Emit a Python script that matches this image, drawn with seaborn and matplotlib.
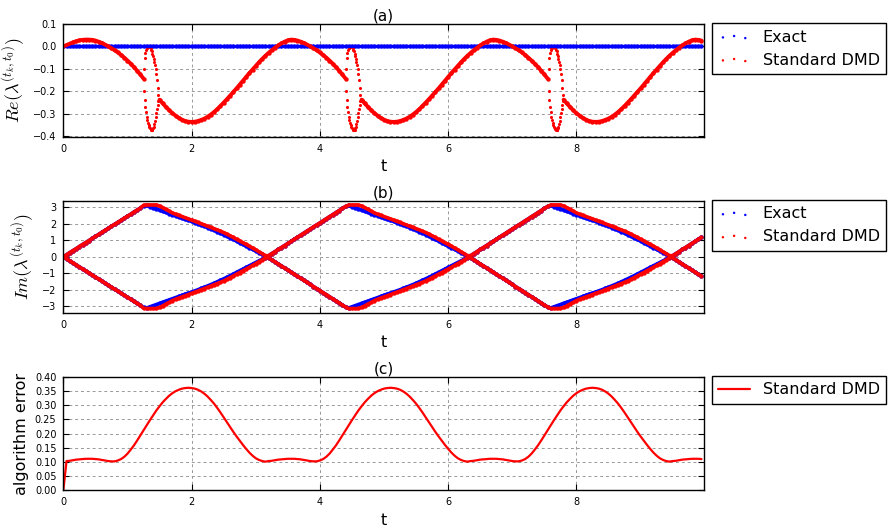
import numpy as np
import matplotlib
matplotlib.use("Agg")
import matplotlib.pyplot as plt
import seaborn as sns

sns.set_style("white", {"axes.edgecolor": "k", "text.color": "k",
                        "axes.labelcolor": "k", "xtick.color": "k", "ytick.color": "k"})
plt.rcParams["font.family"] = "DejaVu Sans"
plt.rcParams["mathtext.fontset"] = "cm"

nan = np.nan

# time axis, one sample every 0.05
t = np.round(np.arange(200) * 0.05, 2)

# (a) real part, exact eigenvalues are purely imaginary
re_exact = [0.0] * 200
re_dmd = [
    0.000, 0.006, 0.012, 0.018, 0.023, 0.027, 0.029, 0.030, 0.030, 0.029,
    0.026, 0.021, 0.015, 0.008, 0.000, -0.008, -0.017, -0.027, -0.038, -0.050,
    -0.063, -0.077, -0.092, -0.108, -0.125, -0.143, nan, nan, nan, nan,
    -0.237, -0.254, -0.269, -0.284, -0.297, -0.308, -0.318, -0.326, -0.332, -0.335,
    -0.336, -0.335, -0.332, -0.327, -0.321, -0.313, -0.303, -0.292, -0.279, -0.265,
    -0.250, -0.235, -0.219, -0.203, -0.187, -0.170, -0.153, -0.136, -0.119, -0.103,
    -0.087, -0.071, -0.056, -0.042, -0.029, -0.017, -0.006, 0.004, 0.013, 0.021,
    0.027, 0.030, 0.029, 0.026, 0.021, 0.015, 0.008, 0.000, -0.008, -0.017,
    -0.027, -0.038, -0.050, -0.063, -0.077, -0.092, -0.108, -0.125, -0.143, nan,
    nan, nan, nan,
    -0.237, -0.254, -0.269, -0.284, -0.297, -0.308, -0.318, -0.326, -0.332, -0.335,
    -0.336, -0.335, -0.332, -0.327, -0.321, -0.313, -0.303, -0.292, -0.279, -0.265,
    -0.250, -0.235, -0.219, -0.203, -0.187, -0.170, -0.153, -0.136, -0.119, -0.103,
    -0.087, -0.071, -0.056, -0.042, -0.029, -0.017, -0.006, 0.004, 0.013, 0.021,
    0.027, 0.030, 0.029, 0.026, 0.021, 0.015, 0.008, 0.000, -0.008, -0.017,
    -0.027, -0.038, -0.050, -0.063, -0.077, -0.092, -0.108, -0.125, -0.143, nan,
    nan, nan, nan,
    -0.237, -0.254, -0.269, -0.284, -0.297, -0.308, -0.318, -0.326, -0.332, -0.335,
    -0.336, -0.335, -0.332, -0.327, -0.321, -0.313, -0.303, -0.292, -0.279, -0.265,
    -0.250, -0.235, -0.219, -0.203, -0.187, -0.170, -0.153, -0.136, -0.119, -0.103,
    -0.087, -0.071, -0.056, -0.042, -0.029, -0.017, -0.006, 0.004, 0.013, 0.021,
    0.027, 0.030, 0.029, 0.026,
]

# the three loops where the DMD pair turns into two real eigenvalues (they look alike)
loop_starts = [1.26, 4.41, 7.57]
loop_upper = [-0.100, -0.050, -0.028, -0.016, -0.009, -0.005, -0.003, -0.002,
              -0.002, -0.004, -0.008, -0.014, -0.022, -0.032, -0.043, -0.055,
              -0.068, -0.083, -0.100, -0.122, -0.150, -0.185, -0.215]
loop_lower = [-0.200, -0.240, -0.270, -0.293, -0.312, -0.328, -0.340, -0.350,
              -0.358, -0.364, -0.368, -0.371, -0.372, -0.370, -0.365, -0.357,
              -0.346, -0.332, -0.316, -0.298, -0.280, -0.260, -0.242]

# (b) imaginary part, upper branch (lower branch is its mirror)
im_exact = [
    0.00, 0.12, 0.25, 0.37, 0.49, 0.62, 0.74, 0.86, 0.98, 1.11,
    1.23, 1.35, 1.48, 1.60, 1.72, 1.85, 1.97, 2.09, 2.21, 2.34,
    2.46, 2.58, 2.71, 2.83, 2.95, 3.08,
    3.11, 3.04, 2.97, 2.90, 2.83, 2.76, 2.69, 2.62, 2.55, 2.48,
    2.41, 2.34, 2.27, 2.21, 2.14, 2.07, 2.00, 1.92, 1.85, 1.77,
    1.69, 1.61, 1.52, 1.43, 1.34, 1.25, 1.15, 1.05, 0.95, 0.85,
    0.75, 0.65, 0.55, 0.45, 0.35, 0.25, 0.15, 0.05, 0.06, 0.19,
    0.31, 0.44, 0.56, 0.68, 0.81, 0.93, 1.06, 1.18, 1.31, 1.43,
    1.56, 1.68, 1.81, 1.93, 2.05, 2.18, 2.30, 2.43, 2.55, 2.68,
    2.80, 2.93, 3.05,
    3.11, 3.04, 2.97, 2.90, 2.83, 2.76, 2.69, 2.62, 2.55, 2.48,
    2.41, 2.34, 2.27, 2.21, 2.14, 2.07, 2.00, 1.92, 1.85, 1.77,
    1.69, 1.61, 1.52, 1.43, 1.34, 1.25, 1.15, 1.05, 0.95, 0.85,
    0.75, 0.65, 0.55, 0.45, 0.35, 0.25, 0.15, 0.05, 0.06, 0.19,
    0.31, 0.44, 0.56, 0.68, 0.81, 0.93, 1.06, 1.18, 1.31, 1.43,
    1.56, 1.68, 1.81, 1.93, 2.05, 2.18, 2.30, 2.43, 2.55, 2.68,
    2.80, 2.93, 3.05,
    3.11, 3.04, 2.97, 2.90, 2.83, 2.76, 2.69, 2.62, 2.55, 2.48,
    2.41, 2.34, 2.27, 2.21, 2.14, 2.07, 2.00, 1.92, 1.85, 1.77,
    1.69, 1.61, 1.52, 1.43, 1.34, 1.25, 1.15, 1.05, 0.95, 0.85,
    0.75, 0.65, 0.55, 0.45, 0.35, 0.25, 0.15, 0.05, 0.06, 0.19,
    0.31, 0.44, 0.56, 0.68, 0.81, 0.93, 1.06, 1.18,
]
im_dmd = [
    0.00, 0.12, 0.25, 0.37, 0.49, 0.62, 0.74, 0.86, 0.98, 1.11,
    1.23, 1.35, 1.48, 1.60, 1.72, 1.85, 1.97, 2.09, 2.21, 2.34,
    2.46, 2.58, 2.71, 2.83, 2.95, 3.12,
    3.14, 3.14, 3.14, 3.14, 3.08, 2.98, 2.87, 2.77, 2.66, 2.58,
    2.51, 2.44, 2.37, 2.30, 2.22, 2.15, 2.08, 2.00, 1.93, 1.85,
    1.78, 1.70, 1.63, 1.55, 1.47, 1.37, 1.27, 1.17, 1.06, 0.96,
    0.85, 0.75, 0.64, 0.53, 0.42, 0.30, 0.19, 0.07, 0.06, 0.19,
    0.31, 0.44, 0.56, 0.68, 0.81, 0.93, 1.06, 1.18, 1.31, 1.43,
    1.56, 1.68, 1.81, 1.93, 2.05, 2.18, 2.30, 2.43, 2.55, 2.68,
    2.80, 2.93, 3.05,
    3.14, 3.14, 3.14, 3.14, 3.08, 2.98, 2.87, 2.77, 2.66, 2.58,
    2.51, 2.44, 2.37, 2.30, 2.22, 2.15, 2.08, 2.00, 1.93, 1.85,
    1.78, 1.70, 1.63, 1.55, 1.47, 1.37, 1.27, 1.17, 1.06, 0.96,
    0.85, 0.75, 0.64, 0.53, 0.42, 0.30, 0.19, 0.07, 0.06, 0.19,
    0.31, 0.44, 0.56, 0.68, 0.81, 0.93, 1.06, 1.18, 1.31, 1.43,
    1.56, 1.68, 1.81, 1.93, 2.05, 2.18, 2.30, 2.43, 2.55, 2.68,
    2.80, 2.93, 3.05,
    3.14, 3.14, 3.14, 3.14, 3.08, 2.98, 2.87, 2.77, 2.66, 2.58,
    2.51, 2.44, 2.37, 2.30, 2.22, 2.15, 2.08, 2.00, 1.93, 1.85,
    1.78, 1.70, 1.63, 1.55, 1.47, 1.37, 1.27, 1.17, 1.06, 0.96,
    0.85, 0.75, 0.64, 0.53, 0.42, 0.30, 0.19, 0.07, 0.06, 0.19,
    0.31, 0.44, 0.56, 0.68, 0.81, 0.93, 1.06, 1.18,
]

# (c) algorithm error of standard DMD
err_dmd = [
    0.000, 0.103, 0.104, 0.106, 0.108, 0.109, 0.110, 0.111, 0.111, 0.111,
    0.110, 0.109, 0.107, 0.105, 0.103, 0.102, 0.102, 0.105, 0.110, 0.118,
    0.129, 0.143, 0.158, 0.175, 0.193, 0.211, 0.229, 0.247, 0.264, 0.281,
    0.296, 0.310, 0.322, 0.333, 0.342, 0.349, 0.354, 0.358, 0.360, 0.361,
    0.360, 0.358, 0.354, 0.348, 0.340, 0.330, 0.318, 0.305, 0.290, 0.274,
    0.257, 0.240, 0.223, 0.206, 0.190, 0.175, 0.160, 0.146, 0.133, 0.122,
    0.113, 0.107, 0.103, 0.101,
    0.103, 0.104, 0.106, 0.108, 0.109, 0.110, 0.111, 0.111, 0.111,
    0.110, 0.109, 0.107, 0.105, 0.103, 0.102, 0.102, 0.105, 0.110, 0.118,
    0.129, 0.143, 0.158, 0.175, 0.193, 0.211, 0.229, 0.247, 0.264, 0.281,
    0.296, 0.310, 0.322, 0.333, 0.342, 0.349, 0.354, 0.358, 0.360, 0.361,
    0.360, 0.358, 0.354, 0.348, 0.340, 0.330, 0.318, 0.305, 0.290, 0.274,
    0.257, 0.240, 0.223, 0.206, 0.190, 0.175, 0.160, 0.146, 0.133, 0.122,
    0.113, 0.107, 0.103, 0.101,
    0.103, 0.104, 0.106, 0.108, 0.109, 0.110, 0.111, 0.111, 0.111,
    0.110, 0.109, 0.107, 0.105, 0.103, 0.102, 0.102, 0.105, 0.110, 0.118,
    0.129, 0.143, 0.158, 0.175, 0.193, 0.211, 0.229, 0.247, 0.264, 0.281,
    0.296, 0.310, 0.322, 0.333, 0.342, 0.349, 0.354, 0.358, 0.360, 0.361,
    0.360, 0.358, 0.354, 0.348, 0.340, 0.330, 0.318, 0.305, 0.290, 0.274,
    0.257, 0.240, 0.223, 0.206, 0.190, 0.175, 0.160, 0.146, 0.133, 0.122,
    0.113, 0.107, 0.103, 0.101,
    0.103, 0.104, 0.106, 0.108, 0.109, 0.110, 0.111, 0.111, 0.111, 0.110,
]

re_dmd = np.array(re_dmd)
im_exact = np.array(im_exact)
im_dmd = np.array(im_dmd)

fig = plt.figure(figsize=(8.92, 5.31), dpi=100)
ax_a = fig.add_axes([0.071, 0.742, 0.7183, 0.213])
ax_b = fig.add_axes([0.071, 0.411, 0.7183, 0.211])
ax_c = fig.add_axes([0.071, 0.0766, 0.7183, 0.214])

dot = dict(s=10, linewidth=0, legend=False)


def dense(ax, y, color, lw):
    # the samples in the original are so close together they read as a band
    ax.plot(t, y, color=color, lw=lw, solid_capstyle="round")
    sns.scatterplot(x=t, y=y, color=color, ax=ax, **dot)


# (a)
dense(ax_a, re_exact, "b", 2.4)
dense(ax_a, re_dmd, "r", 2.8)
for t0 in loop_starts:
    lt = t0 + np.arange(len(loop_upper)) * 0.01
    sns.scatterplot(x=lt, y=loop_upper, color="r", s=5, linewidth=0, legend=False, ax=ax_a)
    sns.scatterplot(x=lt, y=loop_lower, color="r", s=5, linewidth=0, legend=False, ax=ax_a)

# (b)
dense(ax_b, im_exact, "b", 2.6)
dense(ax_b, -im_exact, "b", 2.6)
dense(ax_b, im_dmd, "r", 2.6)
dense(ax_b, -im_dmd, "r", 2.6)

# (c)
sns.lineplot(x=t, y=err_dmd, color="r", lw=1.6, ax=ax_c)

for ax, title in zip([ax_a, ax_b, ax_c], ["(a)", "(b)", "(c)"]):
    ax.set_xlim(0, 9.99)
    ax.set_xticks([0, 2, 4, 6, 8])
    ax.grid(True, color="0.6", linestyle=(0, (3, 3)), linewidth=0.7)
    ax.tick_params(direction="in", bottom=True, left=True, top=True, right=True,
                   length=4, width=0.8, labelsize=7, pad=5)
    for sp in ax.spines.values():
        sp.set_color("k")
        sp.set_linewidth(1.0)
    ax.set_title(title, fontsize=11, pad=2.5)
    ax.set_xlabel("t", fontsize=11.5)

ax_a.set_ylim(-0.403, 0.1)
ax_a.set_yticks([-0.4, -0.3, -0.2, -0.1, 0.0, 0.1])
ax_a.set_ylabel(r"$Re(\lambda^{(t_k,t_0)})$", fontsize=13)

ax_b.set_ylim(-3.4, 3.4)
ax_b.set_yticks([-3, -2, -1, 0, 1, 2, 3])
ax_b.set_ylabel(r"$Im(\lambda^{(t_k,t_0)})$", fontsize=13)

ax_c.set_ylim(0, 0.4)
ax_c.set_yticks(np.arange(0, 0.41, 0.05))
ax_c.yaxis.set_major_formatter(matplotlib.ticker.FormatStrFormatter("%.2f"))
ax_c.set_ylabel("algorithm error", fontsize=11.5)

leg_kw = dict(loc="upper left", bbox_to_anchor=(1.012, 1.006), borderaxespad=0,
              fontsize=11.5, scatterpoints=3, markerscale=0.55, fancybox=False,
              framealpha=1, edgecolor="k")
for ax in [ax_a, ax_b]:
    cols = ax.collections
    leg = ax.legend([cols[0], cols[1] if ax is ax_a else cols[2]],
                    ["Exact", "Standard DMD"], **leg_kw)
    leg.get_frame().set_linewidth(1.0)
leg = ax_c.legend(ax_c.lines[:1], ["Standard DMD"], **leg_kw)
leg.get_frame().set_linewidth(1.0)

plt.savefig("out.png", dpi=100)
